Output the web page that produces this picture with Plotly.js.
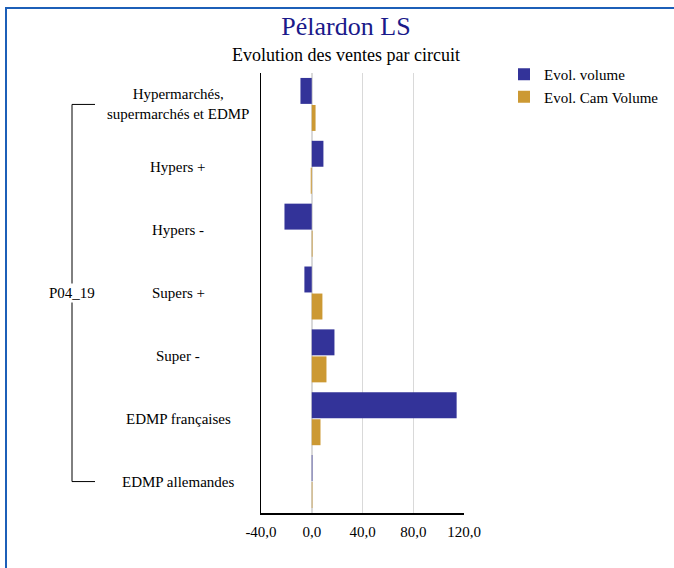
<!DOCTYPE html>
<html><head><meta charset="utf-8">
<script src="https://cdn.plot.ly/plotly-3.0.1.min.js"></script>
<style>
html,body{margin:0;padding:0;background:#fff;}
#frame{position:absolute;left:5px;top:7px;width:720px;height:620px;border-left:2px solid #1c5fb8;border-top:2px solid #1c5fb8;}
#chart{position:absolute;left:0;top:0;width:674px;height:568px;}
</style></head>
<body>
<div id="frame"></div>
<div id="chart"></div>
<script>
const categories = ["Hypermarchés,<br>supermarchés et EDMP", "Hypers +", "Hypers -", "Supers +", "Super -", "EDMP françaises", "EDMP allemandes"];
const groupLabel = "P04_19";
const evolVolume = [-8.9, 9.2, -21.5, -5.8, 17.9, 114.2, 0.5];
const evolCamVolume = [3.0, -0.8, 0.6, 8.4, 11.6, 6.9, 0.5];
const xTicks = [-40, 0, 40, 80, 120];
const xTickLabels = ["-40,0", "0,0", "40,0", "80,0", "120,0"];

const serif = "Liberation Serif, serif";
const L = 261, W = 203, T = 73, H = 440;
const px = v => (v - L) / W;
const py = v => 1 - (v - T) / H;

const traces = [
  {type:'bar', orientation:'h', name:'Evol. volume', y:categories, x:evolVolume,
   marker:{color:'#333399'}, hoverinfo:'x'},
  {type:'bar', orientation:'h', name:'Evol. Cam Volume', y:categories, x:evolCamVolume,
   marker:{color:'#cc9933'}, hoverinfo:'x'}
];

const annotations = categories.map(c => ({
  xref:'paper', yref:'y', x:px(178), y:c, text:c, showarrow:false,
  xanchor:'center', yanchor:'middle', font:{family:serif, size:15, color:'#000'}
}));
annotations.push({xref:'paper', yref:'y', x:px(72), y:categories[3], text:groupLabel,
  showarrow:false, xanchor:'center', yanchor:'middle', bgcolor:'#fff',
  font:{family:serif, size:15, color:'#000'}});
annotations.push({xref:'paper', yref:'paper', x:px(346), y:py(55), text:'Evolution des ventes par circuit',
  showarrow:false, xanchor:'center', yanchor:'middle',
  font:{family:serif, size:18, color:'#000'}});

const lineStyle = {color:'#000', width:1};
const shapes = [
  {type:'line', xref:'paper', yref:'y', x0:px(72), x1:px(72), y0:categories[0], y1:categories[6], line:lineStyle},
  {type:'line', xref:'paper', yref:'y', x0:px(72), x1:px(95), y0:categories[0], y1:categories[0], line:lineStyle},
  {type:'line', xref:'paper', yref:'y', x0:px(72), x1:px(95), y0:categories[6], y1:categories[6], line:lineStyle}
];

const layout = {
  width:674, height:568,
  margin:{l:261, r:210, t:73, b:55, autoexpand:false},
  paper_bgcolor:'rgba(0,0,0,0)', plot_bgcolor:'#fff',
  title:{text:'Pélardon LS', x:346/674, xref:'container', y:1-26/568, yref:'container', xanchor:'center', yanchor:'middle',
    font:{family:serif, size:26, color:'#1a1a8a'}},
  barmode:'group', bargap:0.14, bargroupgap:0.04,
  xaxis:{range:[-40,120], tickvals:xTicks, ticktext:xTickLabels, showgrid:true, gridcolor:'#d9d9d9', gridwidth:1.5,
    zeroline:true, zerolinecolor:'#d9d9d9', zerolinewidth:1.5,
    showline:true, linecolor:'#000', linewidth:1.5, ticks:'', ticklabelstandoff:4,
    tickfont:{family:serif, size:15, color:'#000'}},
  yaxis:{type:'category', autorange:'reversed', showticklabels:false, showgrid:false, zeroline:false,
    showline:true, linecolor:'#000', linewidth:1.5, ticks:''},
  separators:', ',
  showlegend:true,
  legend:{x:px(504), y:py(58), xanchor:'left', yanchor:'top', bgcolor:'rgba(0,0,0,0)',
    font:{family:serif, size:15, color:'#000'}, tracegroupgap:0, itemwidth:30},
  annotations:annotations, shapes:shapes
};
Plotly.newPlot('chart', traces, layout, {displayModeBar:false, staticPlot:true});
</script>
</body></html>
